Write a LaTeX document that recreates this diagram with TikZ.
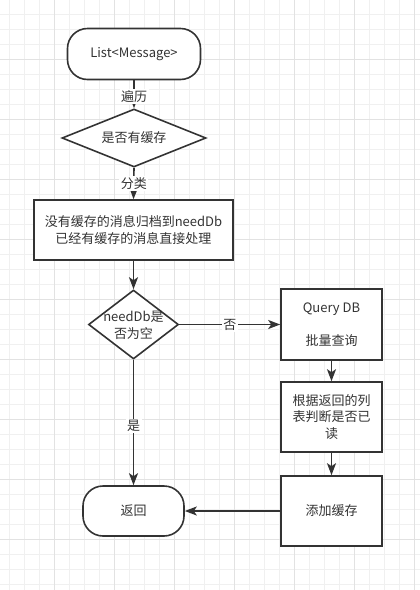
\documentclass[tikz,border=0pt]{standalone}
\usepackage{fontspec}
\setmainfont{Noto Sans CJK SC}
\usetikzlibrary{shapes.geometric,arrows.meta}
\definecolor{ink}{HTML}{333333}
\definecolor{gridminor}{HTML}{F0F0F0}
\definecolor{gridmajor}{HTML}{E2E2E2}
\begin{document}
\begin{tikzpicture}[x=1pt,y=-1pt,
  every node/.style={font=\fontsize{13}{16.5}\selectfont, text=ink},
  box/.style={draw=ink, line width=1.6pt, fill=white, rectangle, inner sep=0pt, align=center},
  term/.style={box, rounded corners=20pt},
  diam/.style={draw=ink, line width=1.6pt, fill=white, diamond, inner sep=0pt},
  conn/.style={draw=ink, line width=1.6pt, -{Stealth[length=12pt,width=9pt,inset=3pt]}},
  lab/.style={fill=white, inner sep=1.5pt},
  gmin/.style={draw=gridminor, line width=1pt},
  gmaj/.style={draw=gridmajor, line width=1pt},
]
\useasboundingbox (0,0) rectangle (420,590);
\fill[white] (0,0) rectangle (420,590);
% grid
\foreach \i in {0,...,27} { \pgfmathsetmacro\gx{9.3+15*\i} \draw[gmin] (\gx,0) -- (\gx,590); }
\foreach \i in {0,...,38} { \pgfmathsetmacro\gy{14.3+15*\i} \draw[gmin] (0,\gy) -- (420,\gy); }
\foreach \i in {0,...,6} { \pgfmathsetmacro\gx{54.3+60*\i} \draw[gmaj] (\gx,0) -- (\gx,590); }
\foreach \i in {0,...,8} { \pgfmathsetmacro\gy{59.3+60*\i} \draw[gmaj] (0,\gy) -- (420,\gy); }

% nodes
\node[term, minimum width=133pt, minimum height=51pt] (n1) at (134,54) {List<Message>};
\node[diam, minimum width=144pt, minimum height=58pt] (d1) at (134,138) {};
\node at (d1) {是否有缓存};
\node[box, minimum width=199pt, minimum height=60pt] (b1) at (133.5,230) {没有缓存的消息归档到needDb\\已经有缓存的消息直接处理};
\node[diam, minimum width=90pt, minimum height=69pt] (d2) at (133.5,324.5) {};
\node at (133.5,325.5) [align=center] {needDb是\\否为空};
\node[box, minimum width=101pt, minimum height=71pt] (q1) at (331.5,324.5) {Query DB\\[16.5pt]批量查询};
\node[box, minimum width=101pt, minimum height=70pt] (q2) at (331.5,417) {根据返回的列\\表判断是否已\\读};
\node[box, minimum width=101pt, minimum height=70pt] (q3) at (331.5,511) {添加缓存};
\node[term, minimum width=101pt, minimum height=50pt] (r) at (133.5,511) {返回};

% connectors
\draw[conn] (n1.south) -- node[lab, pos=0.58] {遍历} (d1.north);
\draw[conn] (d1.south) -- node[lab, pos=0.5] {分类} (b1.north);
\draw[conn] (b1.south) -- (d2.north);
\draw[conn] (d2.east) -- node[lab, pos=0.5] {否} (q1.west);
\draw[conn] (d2.south) -- node[lab, pos=0.53] {是} (r.north);
\draw[conn] (q1.south) -- (q2.north);
\draw[conn] (q2.south) -- (q3.north);
\draw[conn] (q3.west) -- (r.east);
\end{tikzpicture}
\end{document}
